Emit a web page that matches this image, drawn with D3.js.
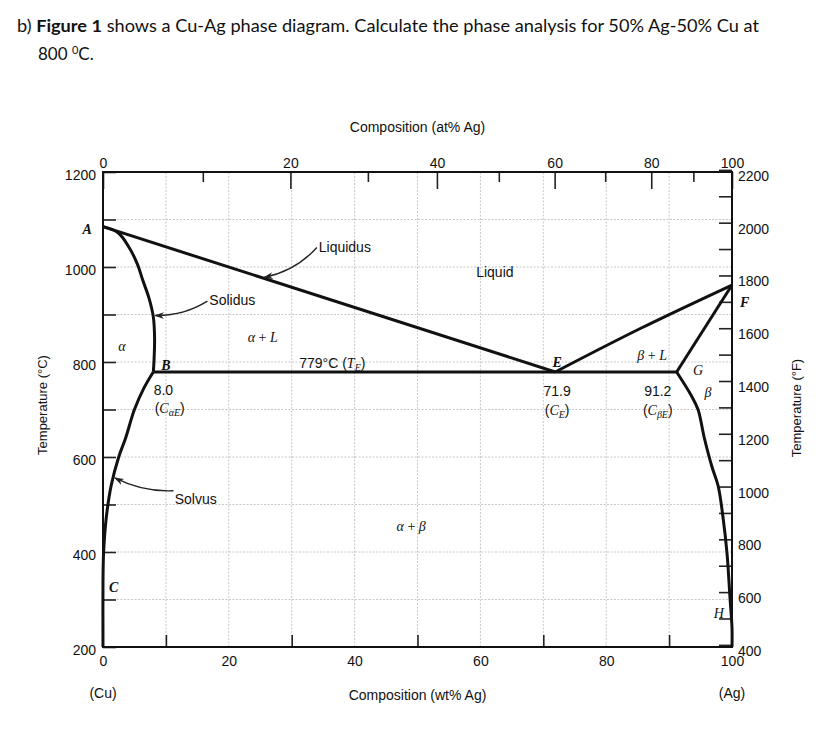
<!DOCTYPE html>
<html><head><meta charset="utf-8">
<script src="https://cdn.jsdelivr.net/npm/d3@7"></script>
<style>body{margin:0;background:#fff}svg{display:block}</style>
</head><body>
<script>
// ---- data (wt% Ag, °C) ----
const liquidusLeft  = [[0,1085],[71.9,779]];
const liquidusRight = [[71.9,779],[85.5,871],[100,962]];
const solidusLeft   = [[0,1085],[2.4,1072],[4.2,1040],[5.5,1005],[6.3,973],[7.3,935],[8.0,895],[8.2,850],[8.1,800],[8.0,779]];
const solvusLeft    = [[8.0,779],[6.5,745],[5.0,700],[3.6,640],[2.5,600],[1.3,540],[0.5,470],[0.1,400],[0,340],[0,200]];
const solidusRight  = [[91.2,779],[100,962]];
const solvusRight   = [[91.2,779],[93.5,730],[94.6,700],[95.6,640],[96.8,580],[97.8,539],[98.6,470],[99.2,398],[99.7,300],[100,240],[100,200]];
const eutecticLine  = [[8.0,779],[91.2,779]];

const wtTicks   = [0,20,40,60,80,100];
const wtMinor   = [10,30,50,70,90];
const atTicks   = [0,20,40,60,80,100];
const atMinor   = [10,30,50,70,90];
const cTicks    = d3.range(200,1201,100);
const cLabels   = [200,400,600,800,1000,1200];
const fTicks    = d3.range(400,2201,100);
const fLabels   = [400,600,800,1000,1200,1400,1600,1800,2000,2200];

const W=828,H=735;
const svg=d3.select("body").append("svg").attr("width",W).attr("height",H);
const sans="'Liberation Sans', Arial, sans-serif";
const serif="'Liberation Serif', 'Times New Roman', serif";

// title
const t1=svg.append("text").attr("x",17).attr("y",32).attr("font-family","Lato, sans-serif").attr("font-size",17)
  .attr("textLength",742).attr("lengthAdjust","spacingAndGlyphs").attr("fill","#111");
t1.append("tspan").text("b) ");
t1.append("tspan").attr("font-weight","bold").text("Figure 1");
t1.append("tspan").text(" shows a Cu-Ag phase diagram. Calculate the phase analysis for 50% Ag-50% Cu at");
const t2=svg.append("text").attr("x",38).attr("y",60).attr("font-family","Lato, sans-serif").attr("font-size",17).attr("fill","#111");
t2.append("tspan").text("800 ");
t2.append("tspan").attr("font-size",11).attr("dy",-6).text("0");
t2.append("tspan").attr("dy",6).text("C.");

// scales
const x=d3.scaleLinear().domain([0,100]).range([103,732]);
const y=d3.scaleLinear().domain([200,1200]).range([647,172]);
const c2f=c=>c*9/5+32;
const yF=d3.scaleLinear().domain([c2f(200),c2f(1200)]).range([647,172]);
const atToWt=a=>100*a*107.87/(a*107.87+(100-a)*63.55);
const atAll=d3.range(0,101,10);
const xAt=d3.scaleLinear().domain(atAll).range(atAll.map(a=>x(atToWt(a))));

// grid
const grid=svg.append("g").attr("stroke","#c8c8c8").attr("stroke-width",1).attr("stroke-dasharray","2,1.5");
grid.selectAll("line.h").data(d3.range(300,1200,100)).join("line")
  .attr("x1",x(0)).attr("x2",x(100)).attr("y1",d=>y(d)).attr("y2",d=>y(d));
grid.selectAll("line.v").data(d3.range(10,100,10)).join("line")
  .attr("y1",y(200)).attr("y2",y(1200)).attr("x1",d=>x(d)).attr("x2",d=>x(d));

function styleAxis(g){
  g.select(".domain").remove();
  g.selectAll(".tick line").attr("stroke","#222").attr("stroke-width",1.6);
  g.selectAll(".tick text").attr("font-family",sans).attr("font-size",14).attr("fill","#111");
}
// left °C
svg.append("g").attr("transform",`translate(${x(0)},0)`)
  .call(d3.axisLeft(y).tickValues(cTicks).tickSize(-13).tickPadding(7).tickFormat(d=>cLabels.includes(d)?d:""))
  .call(styleAxis).selectAll(".tick text").attr("dy","0.55em");
// right °F
svg.append("g").attr("transform",`translate(${x(100)},0)`)
  .call(d3.axisRight(yF).tickValues(fTicks).tickSize(-13).tickPadding(6).tickFormat(d=>fLabels.includes(d)?d:""))
  .call(styleAxis).selectAll(".tick text").attr("dy","0.75em");
// top at%
svg.append("g").attr("transform",`translate(0,${y(1200)})`)
  .call(d3.axisTop(xAt).tickValues(atTicks).tickSize(-17).tickPadding(4))
  .call(styleAxis);
svg.append("g").attr("transform",`translate(0,${y(1200)})`)
  .call(d3.axisTop(xAt).tickValues(atMinor).tickSize(-10).tickFormat(""))
  .call(styleAxis);
// bottom wt%
svg.append("g").attr("transform",`translate(0,${y(200)})`)
  .call(d3.axisBottom(x).tickValues(wtTicks).tickSize(0).tickPadding(9))
  .call(styleAxis);
svg.append("g").attr("transform",`translate(0,${y(200)})`)
  .call(d3.axisBottom(x).tickValues(wtMinor).tickSize(-12).tickFormat(""))
  .call(styleAxis);

// border
svg.append("rect").attr("x",x(0)).attr("y",y(1200)).attr("width",x(100)-x(0)).attr("height",y(200)-y(1200))
  .attr("fill","none").attr("stroke","#111").attr("stroke-width",2);

// phase boundaries
const line=d3.line().x(d=>x(d[0])).y(d=>y(d[1]));
const curve=d3.line().x(d=>x(d[0])).y(d=>y(d[1])).curve(d3.curveCatmullRom.alpha(0.5));
const bounds=svg.append("g").attr("fill","none").attr("stroke","#111").attr("stroke-width",3).attr("stroke-linejoin","round");
bounds.append("path").attr("d",line(liquidusLeft));
bounds.append("path").attr("d",curve(liquidusRight));
bounds.append("path").attr("d",curve(solidusLeft));
bounds.append("path").attr("d",curve(solvusLeft));
bounds.append("path").attr("d",line(solidusRight));
bounds.append("path").attr("d",curve(solvusRight));
bounds.append("path").attr("d",line(eutecticLine));

// arrows
svg.append("defs").append("marker").attr("id","ah").attr("viewBox","0 0 10 10").attr("refX",9).attr("refY",5)
  .attr("markerWidth",7).attr("markerHeight",7).attr("orient","auto")
  .append("path").attr("d","M0,1.5 L10,5 L0,8.5 L3,5 Z").attr("fill","#222");
const arrows=[
  {from:[34.0,1041],to:[25.6,978],bend:-10},
  {from:[16.6,928],to:[8.3,898],bend:-8},
  {from:[11.2,529],to:[1.9,556],bend:-8}
];
svg.append("g").selectAll("path").data(arrows).join("path")
  .attr("d",a=>{
    const x0=x(a.from[0]),y0=y(a.from[1]),x1=x(a.to[0]),y1=y(a.to[1]);
    const mx=(x0+x1)/2,my=(y0+y1)/2,dx=x1-x0,dy=y1-y0,L=Math.hypot(dx,dy);
    const cx=mx+(-dy/L)*a.bend, cy=my+(dx/L)*a.bend;
    return `M${x0},${y0} Q${cx},${cy} ${x1},${y1}`;
  })
  .attr("fill","none").attr("stroke","#222").attr("stroke-width",1.4).attr("marker-end","url(#ah)");

// plain labels
const sansLabels=[
  {t:"Liquidus",w:34.3,T:1032,a:"start"},
  {t:"Solidus",w:16.9,T:920,a:"start"},
  {t:"Solvus",w:11.4,T:501,a:"start"},
  {t:"Liquid",w:62.3,T:979,a:"middle"},
  {t:"8.0",w:9.6,T:730,a:"middle"},
  {t:"71.9",w:72.2,T:728,a:"middle"},
  {t:"91.2",w:88.2,T:728,a:"middle"}
];
svg.append("g").selectAll("text").data(sansLabels).join("text")
  .attr("x",d=>x(d.w)).attr("y",d=>y(d.T)).attr("text-anchor",d=>d.a)
  .attr("font-family",sans).attr("font-size",14).attr("fill","#111").text(d=>d.t);

// serif italic letters
const letters=[
  {t:"A",w:-2.5,T:1069,b:true},{t:"B",w:10.0,T:783,b:true},{t:"E",w:72.2,T:790,b:true},
  {t:"F",w:102.0,T:916,b:true},{t:"C",w:1.7,T:316,b:true},{t:"G",w:94.6,T:773,b:false},
  {t:"H",w:97.9,T:261,b:false},{t:"α",w:3.0,T:823,b:false},{t:"β",w:96.2,T:726,b:false}
];
svg.append("g").selectAll("text").data(letters).join("text")
  .attr("x",d=>x(d.w)).attr("y",d=>y(d.T)).attr("text-anchor","middle")
  .attr("font-family",serif).attr("font-style","italic").attr("font-weight",d=>d.b?"bold":"normal")
  .attr("font-size",14).attr("fill","#111").text(d=>d.t);

// phase field labels (italic serif with plus)
const fields=[{a:"α",b:"L",w:25.4,T:842},{a:"β",b:"L",w:87.3,T:804},{a:"α",b:"β",w:49,T:444}];
fields.forEach(f=>{
  const t=svg.append("text").attr("x",x(f.w)).attr("y",y(f.T)).attr("text-anchor","middle")
    .attr("font-family",serif).attr("font-size",14).attr("fill","#111");
  t.append("tspan").attr("font-style","italic").text(f.a);
  t.append("tspan").text(" + ");
  t.append("tspan").attr("font-style","italic").text(f.b);
});

// composition labels with subscripts
function compLabel(w,T,sub){
  const t=svg.append("text").attr("x",x(w)).attr("y",y(T)).attr("text-anchor","middle")
    .attr("font-family",sans).attr("font-size",14).attr("fill","#111");
  t.append("tspan").text("(");
  t.append("tspan").attr("font-family",serif).attr("font-style","italic").text("C");
  t.append("tspan").attr("font-family",serif).attr("font-style","italic").attr("font-size",10).attr("dy",3).text(sub);
  t.append("tspan").attr("dy",-3).text(")");
}
compLabel(10.6,692,"αE");
compLabel(72.2,688,"E");
compLabel(88.2,688,"βE");

// eutectic temperature label
const te=svg.append("text").attr("x",x(31.2)).attr("y",y(787)).attr("font-family",sans).attr("font-size",14).attr("fill","#111");
te.append("tspan").text("779°C (");
te.append("tspan").attr("font-family",serif).attr("font-style","italic").text("T");
te.append("tspan").attr("font-family",serif).attr("font-style","italic").attr("font-size",10).attr("dy",3).text("E");
te.append("tspan").attr("dy",-3).text(")");

// axis titles
svg.append("text").attr("x",(x(0)+x(100))/2).attr("y",132).attr("text-anchor","middle")
  .attr("font-family",sans).attr("font-size",14).attr("fill","#111").text("Composition (at% Ag)");
svg.append("text").attr("x",(x(0)+x(100))/2).attr("y",700).attr("text-anchor","middle")
  .attr("font-family",sans).attr("font-size",14).attr("fill","#111").text("Composition (wt% Ag)");
svg.append("text").attr("x",x(0)).attr("y",698).attr("text-anchor","middle")
  .attr("font-family",sans).attr("font-size",14).attr("fill","#111").text("(Cu)");
svg.append("text").attr("x",x(100)).attr("y",698).attr("text-anchor","middle")
  .attr("font-family",sans).attr("font-size",14).attr("fill","#111").text("(Ag)");
svg.append("text").attr("transform","translate(47,405) rotate(-90)").attr("text-anchor","middle")
  .attr("font-family",sans).attr("font-size",13).attr("fill","#111").text("Temperature (°C)");
svg.append("text").attr("transform","translate(801,408) rotate(-90)").attr("text-anchor","middle")
  .attr("font-family",sans).attr("font-size",13).attr("fill","#111").text("Temperature (°F)");
</script>
</body></html>
